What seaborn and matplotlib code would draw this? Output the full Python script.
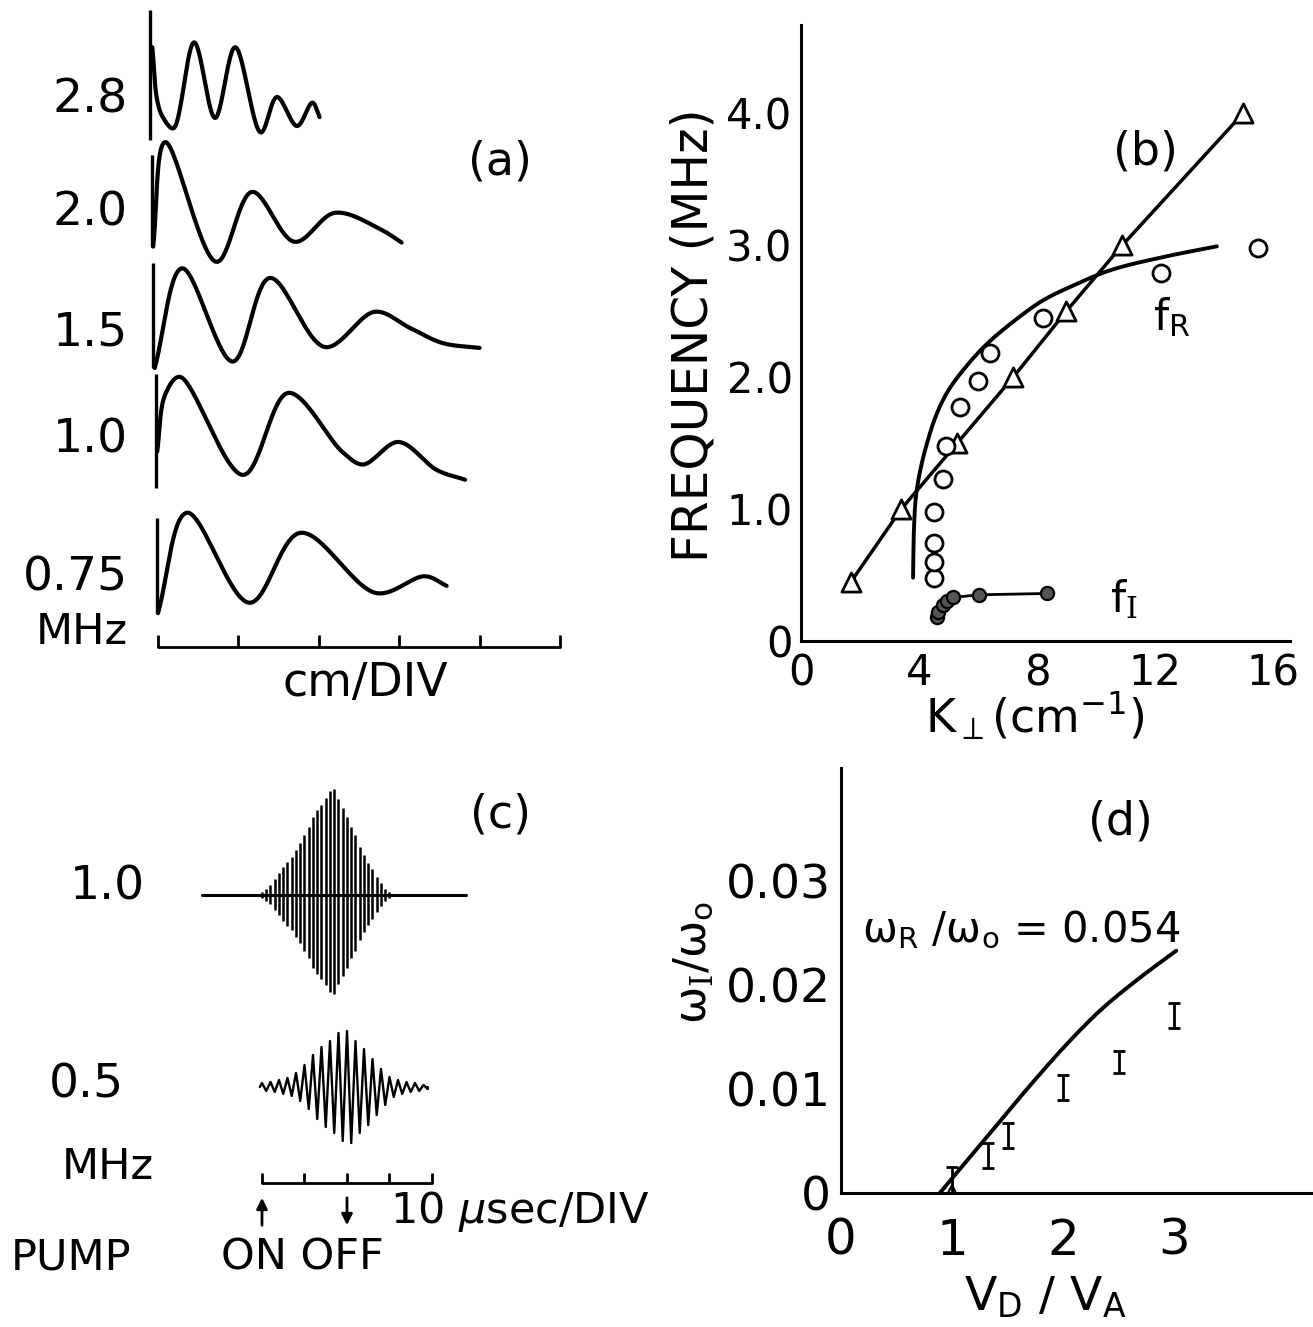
import numpy as np
import pandas as pd
import matplotlib
matplotlib.use("Agg")
import matplotlib.pyplot as plt
import seaborn as sns

sns.set_theme(style="white")
plt.rcParams["font.family"] = ["DejaVu Sans"]
plt.rcParams["mathtext.fontset"] = "custom"
plt.rcParams["mathtext.rm"] = "DejaVu Serif"
plt.rcParams["mathtext.sf"] = "DejaVu Sans"
plt.rcParams["mathtext.it"] = "DejaVu Sans:italic"
plt.rcParams["mathtext.bf"] = "DejaVu Sans:bold"

W, H, DPI = 1313, 1327, 100

# ---------------- (a) wave traces: x in cm (divisions), amplitude in divisions
trace_labels = ["2.8", "2.0", "1.5", "1.0", "0.75"]
wave_28_x = [-0.07, -0.01, 0.06, 0.19, 0.45, 0.71, 0.96, 1.28, 1.48, 1.73, 1.92, 2.01]
wave_28_y = [0.35, -0.31, -0.52, -0.66, 0.41, -0.53, 0.35, -0.71, -0.27, -0.63, -0.34, -0.52]
wave_20_x = [-0.06, 0.09, 0.73, 1.17, 1.70, 2.20, 2.76, 3.03]
wave_20_y = [-0.57, 0.73, -0.76, 0.11, -0.51, -0.15, -0.35, -0.52]
wave_15_x = [-0.04, 0.30, 0.93, 1.39, 2.08, 2.70, 3.13, 3.54, 4.00]
wave_15_y = [-0.66, 0.58, -0.58, 0.46, -0.40, 0.04, -0.16, -0.35, -0.41]
wave_10_x = [-0.01, 0.09, 0.27, 1.06, 1.62, 2.30, 2.55, 2.99, 3.47, 3.82]
wave_10_y = [-0.26, 0.45, 0.67, -0.55, 0.47, -0.27, -0.42, -0.14, -0.49, -0.61]
wave_075_x = [0.00, 0.36, 1.14, 1.77, 2.72, 3.32, 3.59]
wave_075_y = [-0.60, 0.65, -0.47, 0.40, -0.35, -0.14, -0.26]
# trigger marks at the start of each trace
trig_x = [-0.10, -0.07, -0.06, -0.03, -0.01]
trig_top = [0.81, 0.57, 0.65, 0.70, 0.58]
trig_bottom = [-0.81, -0.58, -0.66, -0.71, -0.60]
scale_divs = [0, 1, 2, 3, 4, 5]

# ---------------- (b) dispersion: K_perp (cm^-1) vs frequency (MHz)
tri_k = [1.7, 3.4, 5.3, 7.2, 9.0, 10.9, 15.0]
tri_f = [0.45, 1.0, 1.5, 2.0, 2.5, 3.0, 4.0]
fr_k = [4.5, 4.5, 4.5, 4.5, 4.8, 4.9, 5.4, 6.0, 6.4, 8.2, 12.2, 15.5]
fr_f = [0.48, 0.60, 0.74, 0.98, 1.23, 1.48, 1.77, 1.97, 2.18, 2.45, 2.79, 2.98]
theory_k = [3.80, 3.83, 3.90, 4.05, 4.30, 4.60, 5.00, 5.60, 6.30, 7.20, 8.20, 9.30, 10.50, 12.30, 14.10]
theory_f = [0.48, 0.85, 1.10, 1.30, 1.52, 1.72, 1.90, 2.08, 2.25, 2.42, 2.58, 2.70, 2.81, 2.91, 2.99]
fi_k = [4.6, 4.65, 4.8, 4.95, 5.15, 6.03, 8.33]
fi_f = [0.18, 0.22, 0.27, 0.30, 0.33, 0.35, 0.36]

# ---------------- (c) pumped wave bursts: time in microseconds from pump on
burst_10_amp = [3, 6, 10, 16, 22, 28, 33, 38, 45, 52, 60, 68, 78, 85, 90, 97, 104, 106,
                96, 87, 78, 68, 60, 48, 40, 32, 26, 18, 12, 6, 3]      # one value per 1 us cycle
burst_05_amp = [4, 5, 7, 9, 14, 22, 32, 40, 46, 54, 56, 46, 38, 28, 18, 10, 7, 5, 4, 2]  # per 2 us cycle
burst_10_span = [-14.0, 48.0]
burst_05_span = [-0.5, 39.0]
time_ticks = [0, 10, 20, 30, 40]
pump_on, pump_off = 0, 20

# ---------------- (d) growth rate vs V_D/V_A
growth_x = [0.89, 1.30, 1.70, 2.05, 2.35, 2.68, 3.02]
growth_y = [0.0, 0.0052, 0.0103, 0.0145, 0.0177, 0.0206, 0.0233]
meas_x = [1.0, 1.32, 1.5, 2.0, 2.5, 3.0]
meas_y = [0.0012, 0.0036, 0.0055, 0.0101, 0.0126, 0.0171]
meas_err = [0.0013, 0.0012, 0.0012, 0.0012, 0.0011, 0.0012]


def smooth(xs, ys, sx=1.0, sy=1.0, n=30, alpha=0.5):
    """Centripetal Catmull-Rom curve through the given points."""
    P = np.column_stack([np.asarray(xs) * sx, np.asarray(ys) * sy]).astype(float)
    P = np.vstack([2 * P[0] - P[1], P, 2 * P[-1] - P[-2]])
    out = []
    for i in range(len(P) - 3):
        p0, p1, p2, p3 = P[i:i + 4]
        t0 = 0.0
        t1 = t0 + max(np.linalg.norm(p1 - p0), 1e-9) ** alpha
        t2 = t1 + max(np.linalg.norm(p2 - p1), 1e-9) ** alpha
        t3 = t2 + max(np.linalg.norm(p3 - p2), 1e-9) ** alpha
        t = np.linspace(t1, t2, n, endpoint=False)[:, None]
        A1 = (t1 - t) / (t1 - t0) * p0 + (t - t0) / (t1 - t0) * p1
        A2 = (t2 - t) / (t2 - t1) * p1 + (t - t1) / (t2 - t1) * p2
        A3 = (t3 - t) / (t3 - t2) * p2 + (t - t2) / (t3 - t2) * p3
        B1 = (t2 - t) / (t2 - t0) * A1 + (t - t0) / (t2 - t0) * A2
        B2 = (t3 - t) / (t3 - t1) * A2 + (t - t1) / (t3 - t1) * A3
        out.append((t2 - t) / (t2 - t1) * B1 + (t - t1) / (t2 - t1) * B2)
    out.append(P[-2][None, :])
    C = np.vstack(out)
    return C[:, 0] / sx, C[:, 1] / sy


fig = plt.figure(figsize=(W / DPI, H / DPI), dpi=DPI)
fig.patch.set_facecolor("white")


def box(x0, y0, x1, y1):
    return [x0 / W, 1 - y1 / H, (x1 - x0) / W, (y1 - y0) / H]


def ftext(x, y, s, **kw):
    fig.text(x / W, 1 - y / H, s, color="black", **kw)


# ================= panel (a)
axA = fig.add_axes(box(100, 0, 620, 720))
axA.set_xlim(-0.721, 5.746)
axA.set_ylim(-0.908, 8.047)
axA.axis("off")
trace_offsets = [7.11, 5.55, 4.13, 2.69, 1.02]
waves = [(wave_28_x, wave_28_y), (wave_20_x, wave_20_y), (wave_15_x, wave_15_y),
         (wave_10_x, wave_10_y), (wave_075_x, wave_075_y)]
for (wx, wy), off, tx, tt, tb in zip(waves, trace_offsets, trig_x, trig_top, trig_bottom):
    sx, sy = smooth(wx, wy)
    sns.lineplot(x=sx, y=sy + off, ax=axA, color="black", lw=3.0, sort=False,
                 estimator=None, legend=False)
    axA.plot([tx, tx], [off + tb, off + tt], color="black", lw=2.4, solid_capstyle="butt")
axA.plot([scale_divs[0], scale_divs[-1]], [0, 0], color="black", lw=2.0)
axA.vlines(scale_divs, 0, 0.15, color="black", lw=2.0)

label_py = [100, 213, 333, 440, 578]
for lab, py in zip(trace_labels, label_py):
    ftext(128, py, lab, fontsize=34, ha="right", va="center")
ftext(128, 632, "MHz", fontsize=31, ha="right", va="center")
ftext(365, 683, "cm/DIV", fontsize=33, ha="center", va="center")
ftext(500, 162, "(a)", fontsize=33, ha="center", va="center")

# ================= panel (b)
axB = fig.add_axes(box(801, 25, 1290, 641))
axB.set_xlim(0, 16.58)
axB.set_ylim(0, 4.667)
for s in ["top", "right"]:
    axB.spines[s].set_visible(False)
for s in ["left", "bottom"]:
    axB.spines[s].set_linewidth(2.2)
    axB.spines[s].set_color("black")
axB.set_xticks([0, 4, 8, 12, 16])
axB.set_xticks([2, 6, 10, 14], minor=True)
axB.set_yticks([0, 1, 2, 3, 4])
axB.set_yticklabels(["0", "1.0", "2.0", "3.0", "4.0"])
axB.set_yticks([0.5, 1.5, 2.5, 3.5], minor=True)
axB.tick_params(axis="both", which="both", direction="in", length=11, width=2,
                color="black", labelcolor="black", labelsize=30)
axB.tick_params(axis="x", which="both", length=9, pad=8)
axB.tick_params(axis="y", which="both", pad=6)

tk, tf = smooth(theory_k, theory_f, sx=29.5, sy=132)
sns.lineplot(x=tk, y=tf, ax=axB, color="black", lw=2.8, sort=False, estimator=None)
sns.lineplot(x=tri_k, y=tri_f, ax=axB, color="black", lw=2.5, sort=False, estimator=None)
sns.scatterplot(x=tri_k, y=tri_f, ax=axB, marker="^", s=190, facecolor="white",
                edgecolor="black", linewidth=2.0, zorder=4)
sns.scatterplot(x=fr_k, y=fr_f, ax=axB, marker="o", s=150, facecolor="white",
                edgecolor="black", linewidth=2.0, zorder=4)
sns.lineplot(x=fi_k, y=fi_f, ax=axB, color="black", lw=2.0, sort=False, estimator=None)
sns.scatterplot(x=fi_k, y=fi_f, ax=axB, marker="o", s=90, facecolor="#555555",
                edgecolor="black", linewidth=1.6, zorder=4)
axB.set_xlabel("")
axB.set_ylabel("")

ftext(694, 335, "FREQUENCY (MHz)", fontsize=35, rotation=90, ha="center", va="center")
ftext(1035, 733, r"K$_{\mathsf{\perp}}$(cm$^{\mathsf{-1}}$)", fontsize=33, ha="center", va="baseline")
ftext(1145, 152, "(b)", fontsize=33, ha="center", va="center")
ftext(1153, 330, r"f$_{\mathsf{R}}$", fontsize=31, ha="left", va="baseline")
ftext(1110, 612, r"f$_{\mathrm{I}}$", fontsize=31, ha="left", va="baseline")

# ================= panel (c)
axC = fig.add_axes(box(150, 760, 700, 1327))
axC.set_xlim(-26.35, 103.06)
axC.set_ylim(0, 567)
axC.axis("off")
base_10, base_05 = 432, 240
# 1.0 MHz burst: one vertical stroke per cycle on a flat trace
axC.plot(burst_10_span, [base_10, base_10], color="black", lw=2.2)
t10 = np.arange(len(burst_10_amp))
a10 = np.asarray(burst_10_amp, dtype=float)
axC.vlines(t10, base_10 - 0.93 * a10, base_10 + a10, color="black", lw=1.8)
# 0.5 MHz burst: zig-zag trace, up at each cycle start, down half a period later
zx = [burst_05_span[0]]
zy = [0.0]
for k, a in enumerate(burst_05_amp):
    zx += [2 * k, 2 * k + 1]
    zy += [a, -a]
zx.append(burst_05_span[1])
zy.append(0.0)
sns.lineplot(x=zx, y=np.asarray(zy) + base_05, ax=axC, color="black", lw=1.7,
             sort=False, estimator=None)
# time scale with pump on/off arrows
bar_y = 144
axC.plot([time_ticks[0], time_ticks[-1]], [bar_y, bar_y], color="black", lw=2.0)
axC.vlines(time_ticks, bar_y, bar_y + 10, color="black", lw=2.0)
axC.annotate("", xy=(pump_on, 132), xytext=(pump_on, 99),
             arrowprops=dict(arrowstyle="-|>", lw=2.0, color="black", mutation_scale=16))
axC.annotate("", xy=(pump_off, 99), xytext=(pump_off, 132),
             arrowprops=dict(arrowstyle="-|>", lw=2.0, color="black", mutation_scale=16))
axC.set_xlabel("")
axC.set_ylabel("")

ftext(107, 887, "1.0", fontsize=34, ha="center", va="center")
ftext(86, 1085, "0.5", fontsize=34, ha="center", va="center")
ftext(108, 1167, "MHz", fontsize=31, ha="center", va="center")
ftext(71, 1257, "PUMP", fontsize=31, ha="center", va="center")
ftext(302, 1257, "ON OFF", fontsize=31, ha="center", va="center")
ftext(520, 1212, r"10 $\mu$sec/DIV", fontsize=31, ha="center", va="center")
ftext(500, 815, "(c)", fontsize=33, ha="center", va="center")

# ================= panel (d)
axD = fig.add_axes(box(841, 768, 1313, 1193))
axD.set_xlim(0, 4.252)
axD.set_ylim(0, 0.04087)
for s in ["top", "right"]:
    axD.spines[s].set_visible(False)
for s in ["left", "bottom"]:
    axD.spines[s].set_linewidth(2.2)
    axD.spines[s].set_color("black")
axD.set_xticks([0, 1, 2, 3])
axD.set_yticks([0, 0.01, 0.02, 0.03])
axD.set_yticklabels(["0", "0.01", "0.02", "0.03"])
axD.tick_params(axis="both", direction="in", length=9, width=2, color="black",
                labelcolor="black", labelsize=34)
axD.tick_params(axis="x", labelsize=36, pad=17)
axD.tick_params(axis="y", pad=7)

gx, gy = smooth(growth_x, growth_y, sx=111, sy=10400)
sns.lineplot(x=gx, y=gy, ax=axD, color="black", lw=2.8, sort=False, estimator=None)
axD.errorbar(meas_x, meas_y, yerr=meas_err, fmt="none", ecolor="black",
             elinewidth=2.0, capsize=4.0, capthick=2.0, zorder=4)
axD.plot([meas_x[0]], [0.0004], marker="^", ms=6, mfc="white", mec="black", mew=1.5)
axD.set_xlabel("")
axD.set_ylabel("")

ftext(693, 962, r"ω$_{\mathrm{I}}$/ω$_{\mathsf{o}}$", fontsize=32, rotation=90,
      ha="center", va="center")
ftext(1045, 1310, r"V$_{\mathsf{D}}$ / V$_{\mathsf{A}}$", fontsize=34, ha="center", va="baseline")
ftext(862, 942, r"ω$_{\mathsf{R}}$ /ω$_{\mathsf{o}}$ = 0.054", fontsize=30, ha="left", va="baseline")
ftext(1120, 822, "(d)", fontsize=33, ha="center", va="center")

fig.savefig("out.png", dpi=DPI, facecolor="white")
